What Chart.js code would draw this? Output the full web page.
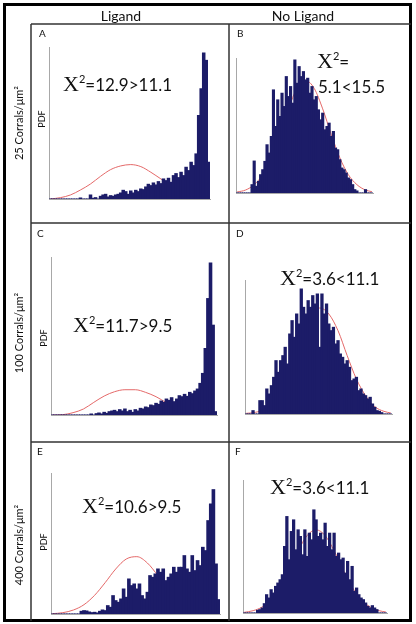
<!DOCTYPE html>
<html lang="en">
<head>
<meta charset="UTF-8">
<title>PDF Ligand / No Ligand</title>
<script src="https://cdn.jsdelivr.net/npm/chart.js"></script>
<style>
body { margin: 0; background: #fff; }
#fig { position: relative; width: 416px; height: 624px; overflow: hidden; background: #fff; }
#fig canvas { position: absolute; }
#frame { position: absolute; left: 0; top: 0; font-family: Lato, 'Open Sans', sans-serif; fill: #111; }
</style>
</head>
<body>
<div id="fig">
    <canvas id="chartA"></canvas>
    <canvas id="chartB"></canvas>
    <canvas id="chartC"></canvas>
    <canvas id="chartD"></canvas>
    <canvas id="chartE"></canvas>
    <canvas id="chartF"></canvas>

    <svg id="frame" width="416" height="624">
        <!-- marco exterior y rejilla -->
        <rect x="4.5" y="4.5" width="406" height="616" fill="none" stroke="#000" stroke-width="3"/>
        <g stroke="#333" stroke-width="1.5">
            <line x1="31" y1="24" x2="411" y2="24"/>
            <line x1="31" y1="24" x2="31" y2="621"/>
            <line x1="229" y1="24" x2="229" y2="621"/>
            <line x1="31" y1="223" x2="411" y2="223"/>
            <line x1="31" y1="442" x2="411" y2="442"/>
        </g>

        <text x="121" y="21" font-size="14" text-anchor="middle">Ligand</text>
        <text x="303" y="21" font-size="14" text-anchor="middle">No Ligand</text>

        <text transform="translate(23,123) rotate(-90)" font-size="11" text-anchor="middle">25 Corrals/μm²</text>
        <text transform="translate(23,333) rotate(-90)" font-size="11" text-anchor="middle">100 Corrals/μm²</text>
        <text transform="translate(23,545) rotate(-90)" font-size="11" text-anchor="middle">400 Corrals/μm²</text>

        <g font-size="10">
            <text x="39" y="37">A</text>
            <text x="237" y="37">B</text>
            <text x="37" y="237">C</text>
            <text x="236" y="237">D</text>
            <text x="37" y="455">E</text>
            <text x="235" y="455">F</text>
        </g>

        <g font-size="9" text-anchor="middle">
            <text transform="translate(45,119) rotate(-90)">PDF</text>
            <text transform="translate(47,338) rotate(-90)">PDF</text>
            <text transform="translate(47,542) rotate(-90)">PDF</text>
        </g>

        <!-- chi cuadrado -->
        <g font-size="17">
            <text x="63" y="91"><tspan font-family="'Liberation Serif', serif" font-size="22">X</tspan><tspan font-size="11" dy="-8">2</tspan><tspan dy="8">=12.9&gt;11.1</tspan></text>
            <text x="317" y="68"><tspan font-family="'Liberation Serif', serif" font-size="22">X</tspan><tspan font-size="11" dy="-8">2</tspan><tspan dy="8">=</tspan></text>
            <text x="318" y="93">5.1&lt;15.5</text>
            <text x="73" y="332"><tspan font-family="'Liberation Serif', serif" font-size="22">X</tspan><tspan font-size="11" dy="-8">2</tspan><tspan dy="8">=11.7&gt;9.5</tspan></text>
            <text x="280" y="285"><tspan font-family="'Liberation Serif', serif" font-size="22">X</tspan><tspan font-size="11" dy="-8">2</tspan><tspan dy="8">=3.6&lt;11.1</tspan></text>
            <text x="82" y="513"><tspan font-family="'Liberation Serif', serif" font-size="22">X</tspan><tspan font-size="11" dy="-8">2</tspan><tspan dy="8">=10.6&gt;9.5</tspan></text>
            <text x="270" y="494"><tspan font-family="'Liberation Serif', serif" font-size="22">X</tspan><tspan font-size="11" dy="-8">2</tspan><tspan dy="8">=3.6&lt;11.1</tspan></text>
        </g>
    </svg>
</div>

<script>
// 64 clases del histograma
var binLabels = [];
for (var i = 0; i < 64; i++) binLabels.push(String(i));

// alturas de las barras
var histA = [0,0,0,0,0,0,0,0,0,0,0,0, 3,0,0,0,12,2,4,0,
    8,12,14,6,10,8,12,14,18,26, 22,14,24,18,26,22,30,28,36,44,
    40,48,42,52,46,60,55,62,50,70, 76,64,80,70,95,85,110,100,135,250,
    330,437,415,110];
var histB = [0,0,0,0,0,0,0,25,96,20, 35,55,70,95,145,120,170,310,200,280,
    230,300,260,350,290,320,270,400,330,380, 350,365,340,345,300,320,280,290,250,220,
    240,190,200,210,170,185,135,130,100,75, 70,60,45,40,25,10,6,0,0,0,
    10,0,0,0];
var histC = [0,0,0,0,0,0,0,0,0,0,0,0,0,0,0, 3,0,4,6,3,
    8,5,10,12,14,10,16,12,18,10, 14,8,16,12,20,18,24,22,30,28,
    35,32,42,38,48,44,52,40,48,58, 55,62,56,68,64,72,78,95,125,200,
    350,457,270,10];
var histD = [0,0,0,10,0,0,40,40,25,75, 60,85,110,160,125,160,175,200,150,240,
    280,230,300,270,375,320,300,340,320,355, 330,360,200,360,300,330,270,250,260,210,
    220,180,170,150,160,140,100,105,110,70, 75,60,55,45,50,30,20,10,8,4,
    0,0,0,0];
var histE = [0,0,0,0,0,0,0,0,0,0,0, 8,10,9,6,4, 5,3,8,12,
    10,25,20,55,40,35,45,75,50,105, 85,90,75,90,55,45,65,115,110,120,
    135,125,135,100,110,120,140,125,140,140, 175,135,125,175,130,160,145,200,190,280,
    330,373,150,43];
var histF = [0,0,0,0,0,0,8,10,15,28, 55,45,70,60,80,90,100,115,200,290,
    160,245,280,190,250,230,175,250,170,240, 220,310,280,230,240,220,270,200,240,190,
    240,170,180,160,165,120,155,100,140,65, 75,55,45,40,30,20,15,22,15,10,
    0,0,0,0];

// curva ajustada (roja), leida cada 4 clases
var fitBins = [0,4,8,12,16,20,24,28,32,36,40,44,48,52,56,60,63];
var fitA = [0,4,12,27,45,68,88,99,103,97,80,60,40,19,7,2,1];
var fitB = [3,9,25,55,106,176,253,315,338,315,253,176,106,55,25,9,4];
var fitC = [0,1,7,18,38,57,70,76,76,68,55,37,20,9,3,1,0];
var fitD = [2,5,15,40,80,140,215,285,318,300,250,175,105,55,22,8,3];
var fitE = [1,4,12,28,56,94,135,165,172,153,115,74,41,19,8,3,1];
var fitF = [2,7,18,41,78,130,187,233,250,233,187,130,78,41,18,7,3];

var barColor = '#1c1c68';
var fitColor = 'rgb(228,105,105)';

var panels = [
    { id: 'chartA', hist: histA, fit: fitA, yMax: 455, left: 49,  top: 47,  w: 161, h: 152 },
    { id: 'chartB', hist: histB, fit: fitB, yMax: 406, left: 236, top: 58,  w: 137, h: 135 },
    { id: 'chartC', hist: histC, fit: fitC, yMax: 475, left: 51,  top: 257, w: 166, h: 158 },
    { id: 'chartD', hist: histD, fit: fitD, yMax: 402, left: 245, top: 280, w: 147, h: 134 },
    { id: 'chartE', hist: histE, fit: fitE, yMax: 423, left: 51,  top: 473, w: 169, h: 141 },
    { id: 'chartF', hist: histF, fit: fitF, yMax: 400, left: 243, top: 480, w: 144, h: 133 }
];

function makeChart(p) {
    var cv = document.getElementById(p.id);
    cv.width = p.w + 4;
    cv.height = p.h + 4;
    cv.style.left = (p.left - 2) + 'px';
    cv.style.top = (p.top - 2) + 'px';

    // la curva va sobre las mismas clases; huecos entre puntos leidos
    var fitFull = binLabels.map(function() { return null; });
    fitBins.forEach(function(b, i) { fitFull[b] = p.fit[i]; });

    return new Chart(cv, {
        type: 'bar',
        data: {
            labels: binLabels,
            datasets: [{
                type: 'bar',
                data: p.hist,
                backgroundColor: barColor,
                borderWidth: 0,
                barPercentage: 1,
                categoryPercentage: 1,
                inflateAmount: 0.5
            }, {
                type: 'line',
                data: fitFull,
                spanGaps: true,
                borderColor: fitColor,
                borderWidth: 1,
                pointRadius: 0,
                cubicInterpolationMode: 'monotone',
                fill: false
            }]
        },
        options: {
            responsive: false,
            animation: false,
            devicePixelRatio: 1,
            layout: { padding: 2 },
            plugins: { legend: { display: false }, tooltip: { enabled: false } },
            scales: {
                x: {
                    ticks: { display: false },
                    grid: { display: false, drawTicks: false },
                    border: { color: '#a8a8a8', width: 1 }
                },
                y: {
                    min: 0,
                    max: p.yMax,
                    ticks: { display: false },
                    grid: { display: false, drawTicks: false },
                    border: { color: '#a8a8a8', width: 1 }
                }
            }
        }
    });
}

panels.forEach(makeChart);
</script>
</body>
</html>
